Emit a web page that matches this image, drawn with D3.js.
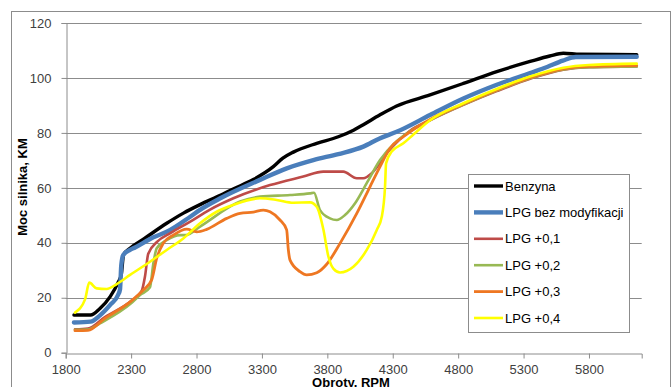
<!DOCTYPE html>
<html>
<head>
<meta charset="utf-8">
<script src="https://cdn.jsdelivr.net/npm/d3@7"></script>
<style>
  html, body { margin: 0; padding: 0; background: #fff; }
  svg { display: block; font-family: "Liberation Sans", Arial, sans-serif; }
</style>
</head>
<body>
<svg id="chart" width="672" height="387"></svg>
<script>
// Engine power vs. engine speed for petrol and LPG settings
const seriesNames = ["Benzyna", "LPG bez modyfikacji", "LPG +0,1", "LPG +0,2", "LPG +0,3", "LPG +0,4"];

const benzynaRpm = [1863,1990,2060,2140,2200,2225,2242,2292,2400,2572,2700,2827,2982,3080,3234,3387,3460,3540,3719,3884,4000,4075,4200,4330,4585,4840,5095,5350,5500,5604,5732,6165];
const benzynaMoc = [13.7,13.7,16,20.4,25.5,28.5,35.6,38,41.5,47.1,50.8,53.9,57.3,59.6,63,67.7,70.8,73,76.2,78.6,81,83,86.5,89.8,93.8,98,102.3,106,108,109,108.6,108.5];

const lpgRpm = [1863,1990,2060,2140,2200,2215,2225,2240,2292,2330,2470,2572,2752,2827,2982,3285,3490,3693,3884,4075,4200,4330,4585,4840,5095,5350,5480,5600,5700,6165];
const lpgMoc = [11,11.3,13.5,17.4,21,23,31.9,35.6,37.4,38.3,42,44,49.5,52,56.2,62.9,67.1,70.1,72.3,75,78,80.4,86.5,92.5,97.5,101.8,104,106.3,107.6,107.7];

const lpg01Rpm = [1871,1970,2100,2300,2381,2406,2431,2500,2600,2752,2900,3082,3362,3616,3769,3922,4025,4075,4139,4254,4432,4585,4840,5095,5350,5604,5800,6165];
const lpg01Moc = [8.5,8.8,13,18.8,22.5,27.7,36,40.4,43.5,47.7,52,56.2,61,64.1,65.9,65.9,63.5,63.5,65.3,72.6,80.8,84.6,90.2,95.2,99.7,103,103.9,104.2];

const lpg02Rpm = [1871,1970,2062,2300,2368,2444,2470,2496,2572,2674,2720,2827,3133,3285,3515,3668,3698,3744,3820,3872,3935,4012,4101,4203,4330,4432,4585,4840,5095,5350,5604,5800,6165];
const lpg02Moc = [8.3,8.4,10.7,18,21,23.8,32.5,38,41,42.8,42.8,45.9,55,56.8,57.4,58,58.2,51.9,48.9,48.3,50.1,54.4,61.7,70.1,77,80.6,84.7,90.3,95.4,99.9,103.1,103.9,104.2];

const lpg03Rpm = [1871,1970,2100,2300,2393,2457,2496,2546,2623,2725,2802,2878,3031,3133,3234,3311,3362,3438,3489,3502,3515,3591,3642,3719,3795,3897,4025,4126,4203,4279,4381,4585,4840,5095,5350,5604,5800,6165];
const lpg03Moc = [8,8.1,12.5,18.8,22.8,26.5,34.4,39.8,42.8,45,44,44.9,48.9,50.7,51.2,51.9,51.3,48.3,44.7,37.4,33.7,29.5,28.3,29.1,32.2,39.8,50.7,60.4,67.7,74.4,78.6,84.9,90.5,95.6,100.1,103.3,104.2,104.5];

const lpg04Rpm = [1871,1948,1980,2037,2113,2190,2292,2444,2572,2699,2827,2954,3081,3285,3413,3540,3668,3719,3769,3808,3846,3897,3999,4101,4178,4216,4241,4249,4292,4381,4460,4585,4840,5095,5350,5604,5800,6165];
const lpg04Moc = [14.6,19.4,25.5,23.4,23.2,25,28.3,33.1,37.4,41.6,47.1,51.3,53.8,56.2,55.6,54.6,54.7,53.1,45,35,30.6,29.2,31.3,37.4,44.7,49.5,60.4,68.9,73.2,76.2,79.5,84.6,90.8,96,100.5,103.7,104.7,105.2];

const xTicks = [1800, 2300, 2800, 3300, 3800, 4300, 4800, 5300, 5800];
const yTicks = [0, 20, 40, 60, 80, 100, 120];

const seriesRpm = [benzynaRpm, lpgRpm, lpg01Rpm, lpg02Rpm, lpg03Rpm, lpg04Rpm];
const seriesMoc = [benzynaMoc, lpgMoc, lpg01Moc, lpg02Moc, lpg03Moc, lpg04Moc];
const colors = ["#000000", "#4a7ebb", "#be4b48", "#98b954", "#ee7722", "#ffff00"];
const widths = [3.4, 4.4, 2.6, 2.6, 2.8, 2.6];

const svg = d3.select("#chart");
const gridColor = "#8c8c8c";

// chart area frame
svg.append("rect")
  .attr("x", 11.5).attr("y", 11.5).attr("width", 659).attr("height", 400)
  .attr("fill", "#fff").attr("stroke", "#8c8c8c").attr("stroke-width", 1);

const plotLeft = 65.7, plotRight = 641.7, plotTop = 23, plotBottom = 352.7;
const x = d3.scaleLinear().domain([1800, 6203]).range([plotLeft, plotRight]);
const y = d3.scaleLinear().domain([0, 120]).range([plotBottom, plotTop]);

// horizontal gridlines
svg.append("g").selectAll("line")
  .data(yTicks.filter(d => d > 0))
  .join("line")
  .attr("x1", plotLeft).attr("x2", plotRight)
  .attr("y1", d => Math.round(y(d)) + 0.5).attr("y2", d => Math.round(y(d)) + 0.5)
  .attr("stroke", gridColor).attr("stroke-width", 1);

// y axis
const yAxis = svg.append("g")
  .attr("transform", `translate(${Math.round(plotLeft) + 0.5},0)`)
  .call(d3.axisLeft(y).tickValues(yTicks).tickSize(5).tickPadding(10).tickFormat(d3.format("d")));
yAxis.select(".domain").attr("stroke", gridColor);
yAxis.selectAll(".tick line").attr("stroke", gridColor);
yAxis.selectAll(".tick text").attr("fill", "#404040").style("font-size", "13px")
  .style("font-family", "'Liberation Sans', Arial, sans-serif");

// x axis
const xAxis = svg.append("g")
  .attr("transform", `translate(0,${Math.round(plotBottom) + 0.5})`)
  .call(d3.axisBottom(x).tickValues(xTicks).tickSize(5).tickPadding(6).tickFormat(d3.format("d")));
xAxis.select(".domain").attr("stroke", gridColor);
xAxis.selectAll(".tick line").attr("stroke", gridColor);
xAxis.selectAll(".tick text").attr("fill", "#404040").style("font-size", "13px")
  .style("font-family", "'Liberation Sans', Arial, sans-serif");

// series lines
const line = d3.line()
  .x(d => x(d[0]))
  .y(d => y(d[1]))
  .curve(d3.curveMonotoneX);

seriesNames.forEach((name, i) => {
  const pts = seriesRpm[i].map((r, k) => [r, seriesMoc[i][k]]);
  svg.append("path")
    .datum(pts)
    .attr("d", line)
    .attr("fill", "none")
    .attr("stroke", colors[i])
    .attr("stroke-width", widths[i])
    .attr("stroke-linejoin", "round")
    .attr("stroke-linecap", "round");
});

// axis titles
svg.append("text")
  .attr("transform", "translate(27,187) rotate(-90)")
  .attr("text-anchor", "middle")
  .style("font-weight", "bold").style("font-size", "13px")
  .attr("fill", "#000")
  .text("Moc silnika, KM");

svg.append("text")
  .attr("x", 351).attr("y", 387)
  .attr("text-anchor", "middle")
  .style("font-weight", "bold").style("font-size", "13px")
  .attr("fill", "#000")
  .text("Obroty, RPM");

// legend
const legend = svg.append("g");
legend.append("rect")
  .attr("x", 468.5).attr("y", 174.5).attr("width", 161).attr("height", 158)
  .attr("fill", "#fff").attr("stroke", "#8c8c8c");
seriesNames.forEach((name, i) => {
  const ly = 186 + i * 26.4;
  legend.append("line")
    .attr("x1", 474).attr("x2", 503)
    .attr("y1", ly).attr("y2", ly)
    .attr("stroke", colors[i]).attr("stroke-width", widths[i]);
  legend.append("text")
    .attr("x", 505).attr("y", ly + 4.5)
    .style("font-size", "13px")
    .attr("fill", "#000")
    .text(name);
});
</script>
</body>
</html>
